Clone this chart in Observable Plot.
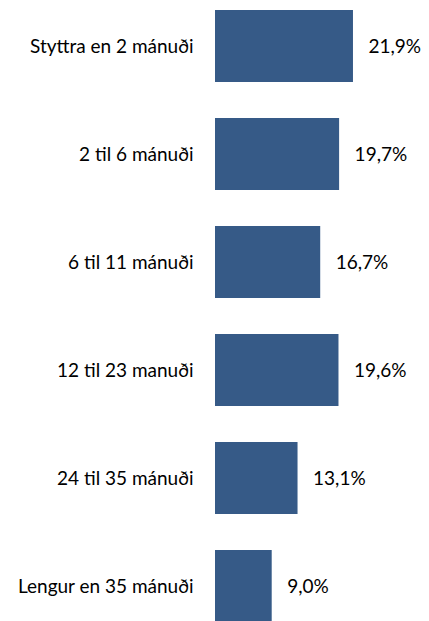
<!DOCTYPE html>
<html>
<head>
<meta charset="utf-8">
<script src="https://cdn.jsdelivr.net/npm/d3@7"></script>
<script src="https://cdn.jsdelivr.net/npm/@observablehq/plot@0.6"></script>
<style>
html, body { margin: 0; padding: 0; background: #fff; overflow: hidden; }
#chart svg { display: block; }
</style>
</head>
<body>
<div id="chart"></div>
<script>
const categories = ["Styttra en 2 mánuði", "2 til 6 mánuði", "6 til 11 mánuði", "12 til 23 manuði", "24 til 35 mánuði", "Lengur en 35 mánuði"];
const values = [21.9, 19.7, 16.7, 19.6, 13.1, 9.0];

const data = categories.map((c, i) => ({category: c, value: values[i]}));
const fmt = v => v.toFixed(1).replace(".", ",") + "%";

const chart = Plot.plot({
  width: 429,
  height: 625,
  marginLeft: 215,
  marginRight: 25,
  marginTop: 8,
  marginBottom: 0,
  style: {fontFamily: "Lato, sans-serif", fontSize: "19px", color: "#000", background: "#fff"},
  x: {domain: [0, 30], axis: null},
  y: {domain: categories, padding: 0.33, paddingOuter: 0, label: null},
  marks: [
    Plot.barX(data, {x: "value", y: "category", fill: "#365a87"}),
    Plot.text(data, {x: "value", y: "category", text: d => fmt(d.value), textAnchor: "start", dx: 15, fill: "#000", fontSize: 19}),
    Plot.axisY({tickSize: 0, tickPadding: 22, fontSize: 19, fill: "#000"})
  ]
});
document.getElementById("chart").appendChild(chart);
</script>
</body>
</html>
